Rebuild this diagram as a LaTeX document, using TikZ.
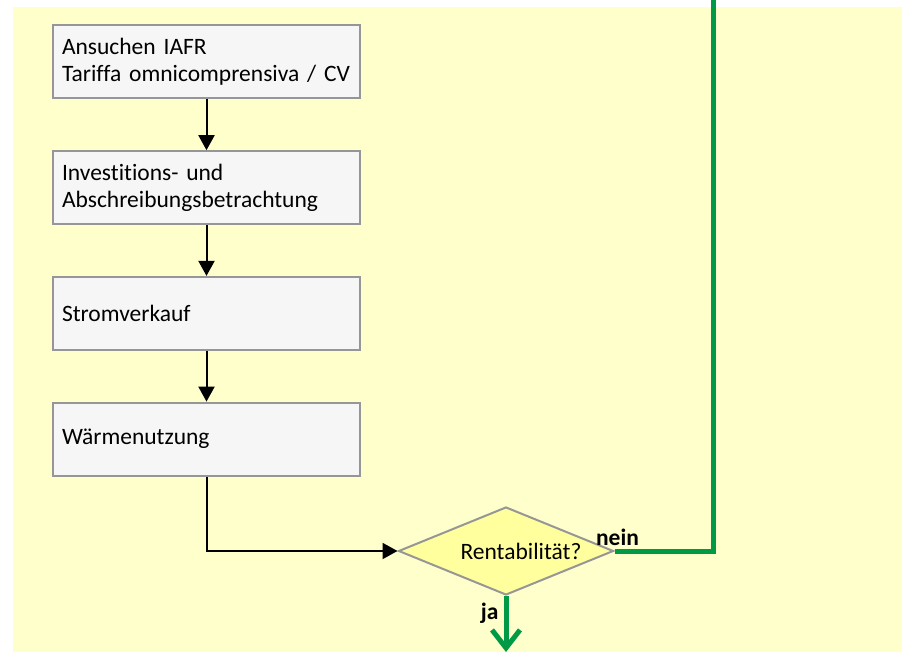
\documentclass[tikz,border=0pt]{standalone}
\usepackage{fontspec}
\setmainfont[Ligatures=NoCommon]{Carlito}
\usepackage{tikz}
\usetikzlibrary{arrows.meta, positioning, shapes.geometric}
\definecolor{rbyellow}{HTML}{FFFFCC}
\definecolor{rbdia}{HTML}{FFFF9E}
\definecolor{rbgray}{HTML}{969696}
\definecolor{rbbox}{HTML}{F6F6F6}
\definecolor{rbgreen}{HTML}{009A46}

\begin{document}
\begin{tikzpicture}[
      x=1pt, y=-1pt,
      font=\fontsize{23.5}{27}\selectfont, node distance=50.7pt,
      st/.style={draw=rbgray, fill=rbbox, line width=2pt,
                 minimum width=307pt, minimum height=73pt,
                 inner xsep=9pt, align=left, text width=289pt},
      dc/.style={diamond, draw=rbgray, fill=rbdia, line width=2pt,
                 minimum width=215pt, minimum height=88pt,
                 aspect=2.44, inner sep=0pt},
      ar/.style={-{Triangle[length=15pt,width=16pt]}, black, line width=2pt},
      gl/.style={rbgreen, line width=5pt},
      lbl/.style={font=\fontsize{23.5}{27}\selectfont\bfseries},
    ]
    \useasboundingbox (0,0) rectangle (902,652);
    \fill[rbyellow] (13,7) rectangle (902,652);

    \node[st] (a) at (206.5,62) {Ansuchen IAFR\\Tariffa omnicomprensiva / CV};
    \node[st, below=of a] (b) {Investitions- und\\Abschreibungsbetrachtung};
    \node[st, below=of b] (c) {Stromverkauf};
    \node[st, below=of c] (d) {Wärmenutzung};
    \node[dc] (e) at (506,551) {\hspace*{30pt}Rentabilität?};

    \coordinate (top) at (713,0);
    \coordinate (out) at (506,652);

    \draw[ar] (a) -- (b);
    \draw[ar] (b) -- (c);
    \draw[ar] (c) -- (d);
    \draw[ar] (d.south) |- (e.west);

    \draw[gl] (e.east) -| (top);
    \draw[gl, -{Straight Barb[length=18pt,width=28pt]}] (e.south) -- (out);

    \node[lbl, above=2pt of e.east, xshift=3pt] {nein};
    \node[lbl, below left=3pt and 4pt of e.south] {ja};
  \end{tikzpicture}
\end{document}
